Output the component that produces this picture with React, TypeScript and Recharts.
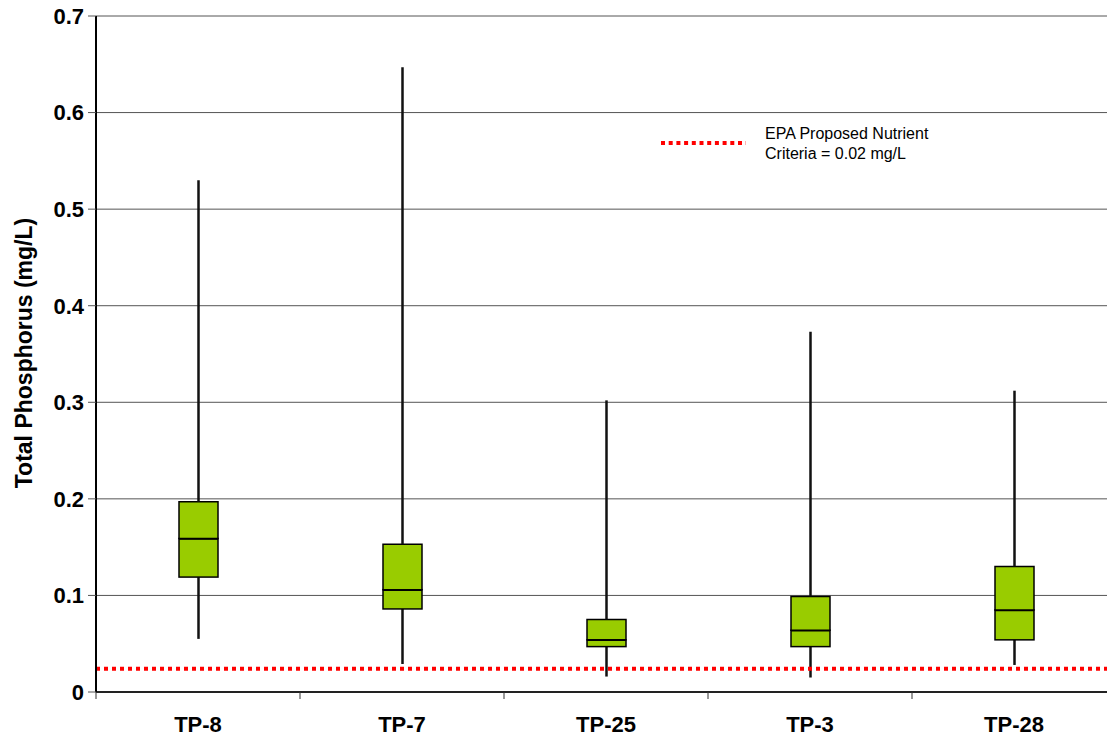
import React from 'react';
import {
  ComposedChart,
  Bar,
  XAxis,
  YAxis,
  CartesianGrid,
  ReferenceLine,
} from 'recharts';

const sites = ['TP-8', 'TP-7', 'TP-25', 'TP-3', 'TP-28'];
const minVals = [0.055, 0.029, 0.016, 0.015, 0.028];
const q1Vals = [0.119, 0.086, 0.047, 0.047, 0.054];
const medianVals = [0.159, 0.106, 0.054, 0.064, 0.085];
const q3Vals = [0.197, 0.153, 0.075, 0.099, 0.130];
const maxVals = [0.530, 0.647, 0.302, 0.373, 0.312];
const yTicks = [0, 0.1, 0.2, 0.3, 0.4, 0.5, 0.6, 0.7];
const criteria = 0.024;

const CHART_W = 1116;
const CHART_H = 740;
const Y_W = 96;
const BAND = (CHART_W - Y_W) / sites.length;
const FONT = '"Liberation Sans", Arial, sans-serif';

const data = sites.map((name, i) => ({
  name,
  base: minVals[i],
  lowWhisker: q1Vals[i] - minVals[i],
  lowBox: medianVals[i] - q1Vals[i],
  highBox: q3Vals[i] - medianVals[i],
  highWhisker: maxVals[i] - q3Vals[i],
}));

const Whisker = (props: any) => {
  const { x, y, width, height } = props;
  const cx = x + width / 2;
  return <line x1={cx} x2={cx} y1={y} y2={y + height} stroke="#111" strokeWidth={2.5} />;
};

// lower half of the box; its top edge is the median
const LowerBox = (props: any) => {
  const { x, y, width, height } = props;
  return (
    <g>
      <rect x={x} y={y} width={width} height={height} fill="#99cc00" stroke="#000" strokeWidth={1.5} />
      <line x1={x} x2={x + width} y1={y} y2={y} stroke="#000" strokeWidth={2.5} />
    </g>
  );
};

const XTick = (props: any) => {
  const { x, payload } = props;
  const left = x - BAND / 2;
  return (
    <g>
      <line x1={left} x2={left} y1={692} y2={699} stroke="#333" strokeWidth={1} />
      <text x={x} y={732} textAnchor="middle" fontFamily={FONT} fontWeight="bold" fontSize={22} fill="#000">
        {payload.value}
      </text>
    </g>
  );
};

const LegendBox = () => (
  <svg
    width={300}
    height={50}
    style={{ position: 'absolute', left: 660, top: 125 }}
  >
    <line x1={1} x2={86} y1={18} y2={18} stroke="#ff0000" strokeWidth={4} strokeDasharray="4 3.7" />
    <text x={105} y={14} fontFamily={FONT} fontSize={16} fill="#000">EPA Proposed Nutrient</text>
    <text x={105} y={34} fontFamily={FONT} fontSize={16} fill="#000">Criteria = 0.02 mg/L</text>
  </svg>
);

export default function App() {
  return (
    <div style={{ position: 'fixed', left: 0, top: 0, width: 1107, height: 740, overflow: 'hidden', background: '#fff' }}>
      <ComposedChart
        width={CHART_W}
        height={CHART_H}
        data={data}
        margin={{ top: 16, right: 0, bottom: 0, left: 0 }}
      >
        <CartesianGrid vertical={false} stroke="#555" strokeWidth={1} />
        <XAxis
          dataKey="name"
          height={48}
          interval={0}
          axisLine={{ stroke: '#222', strokeWidth: 2 }}
          tickLine={false}
          tick={<XTick />}
        />
        <YAxis
          width={Y_W}
          domain={[0, 0.7]}
          ticks={yTicks}
          interval={0}
          axisLine={{ stroke: '#000', strokeWidth: 2 }}
          tickLine={{ stroke: '#555' }}
          tickSize={8}
          tickMargin={4}
          tickFormatter={(v: number) => (v === 0 ? '0' : v.toFixed(1))}
          tick={{ fontFamily: FONT, fontWeight: 'bold', fontSize: 22, fill: '#000' }}
          label={{
            content: () => (
              <text
                x={32}
                y={353}
                transform="rotate(-90 32 353)"
                textAnchor="middle"
                fontFamily={FONT}
                fontWeight="bold"
                fontSize={23}
                fill="#000"
              >
                Total Phosphorus (mg/L)
              </text>
            ),
          }}
        />
        <Bar dataKey="base" stackId="a" fill="transparent" barSize={39} isAnimationActive={false} />
        <Bar dataKey="lowWhisker" stackId="a" barSize={39} shape={<Whisker />} isAnimationActive={false} />
        <Bar dataKey="lowBox" stackId="a" barSize={39} shape={<LowerBox />} isAnimationActive={false} />
        <Bar dataKey="highBox" stackId="a" barSize={39} fill="#99cc00" stroke="#000" strokeWidth={1.5} isAnimationActive={false} />
        <Bar dataKey="highWhisker" stackId="a" barSize={39} shape={<Whisker />} isAnimationActive={false} />
        <ReferenceLine y={criteria} stroke="#ff0000" strokeWidth={4} strokeDasharray="4 4" />
      </ComposedChart>
      <LegendBox />
    </div>
  );
}
